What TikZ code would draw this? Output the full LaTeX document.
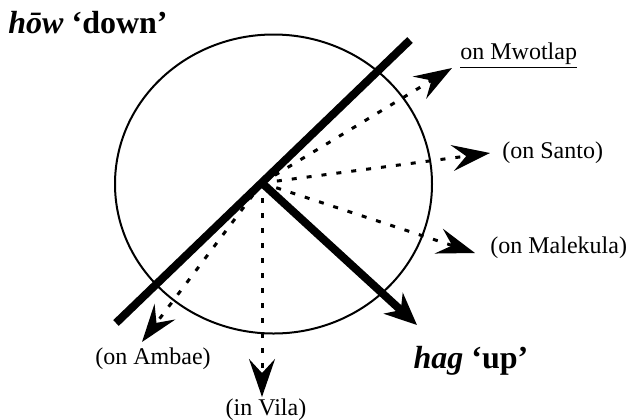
\documentclass[tikz,border=0pt]{standalone}
\usepackage{fontspec}
\setmainfont{Liberation Serif}
\usetikzlibrary{arrows.meta}

\tikzset{
    ray/.style={line width=1.5pt, dash pattern=on 2.5pt off 5pt,
                -{Stealth[length=19pt, width=13pt, inset=7pt]}},
    axisline/.style={line width=4pt},
    place/.style={font=\fontsize{12}{14}\selectfont, inner sep=0pt},
    term/.style={font=\fontsize{16}{18}\selectfont\bfseries, inner sep=0pt},
}

\begin{document}
\begin{tikzpicture}[x=0.5pt, y=-0.5pt]
\useasboundingbox (0,0) rectangle (632,419);
\begin{scope}
    \draw[line width=1pt] (273.5,184) ellipse [x radius=79.25pt, y radius=74.75pt];

    \coordinate (v)      at (262,183);
    \coordinate (lo)     at (116,323);
    \coordinate (hi)     at (410,40);
    \coordinate (hagtip) at (417,325);

    \coordinate (mwo)   at (452,68);
    \coordinate (san)   at (490,153);
    \coordinate (mal)   at (475,253);
    \coordinate (vil)   at (262,397);
    \coordinate (amb)   at (142,342);

    \draw[ray] (v) -- (mwo);
    \draw[ray] (v) -- (san);
    \draw[ray] (v) -- (mal);
    \draw[ray] (v) -- (vil);
    \draw[ray] (v) -- (amb);

    \draw[axisline] (lo) -- (hi);
    \draw[axisline, -{Stealth[length=16pt, width=14pt, inset=5pt]}] (v) -- (hagtip);

    \node[place, anchor=west]  (mwotlap)  at (460,56)  {\underline{on Mwotlap}};
    \node[place, anchor=west]  (santo)    at (502,153) {(on Santo)};
    \node[place, anchor=west]  (malekula) at (490,248) {(on Malekula)};
    \node[place, anchor=north] (vila)     at (266,398) {(in Vila)};
    \node[place]               (ambae)    at (153,359) {(on Ambae)};

    \node[term, anchor=west] (down) at (8,23)   {\textit{hōw} ‘down’};
    \node[term]              (up)   at (471,361) {\textit{hag} ‘up’};
\end{scope}
\end{tikzpicture}
\end{document}
